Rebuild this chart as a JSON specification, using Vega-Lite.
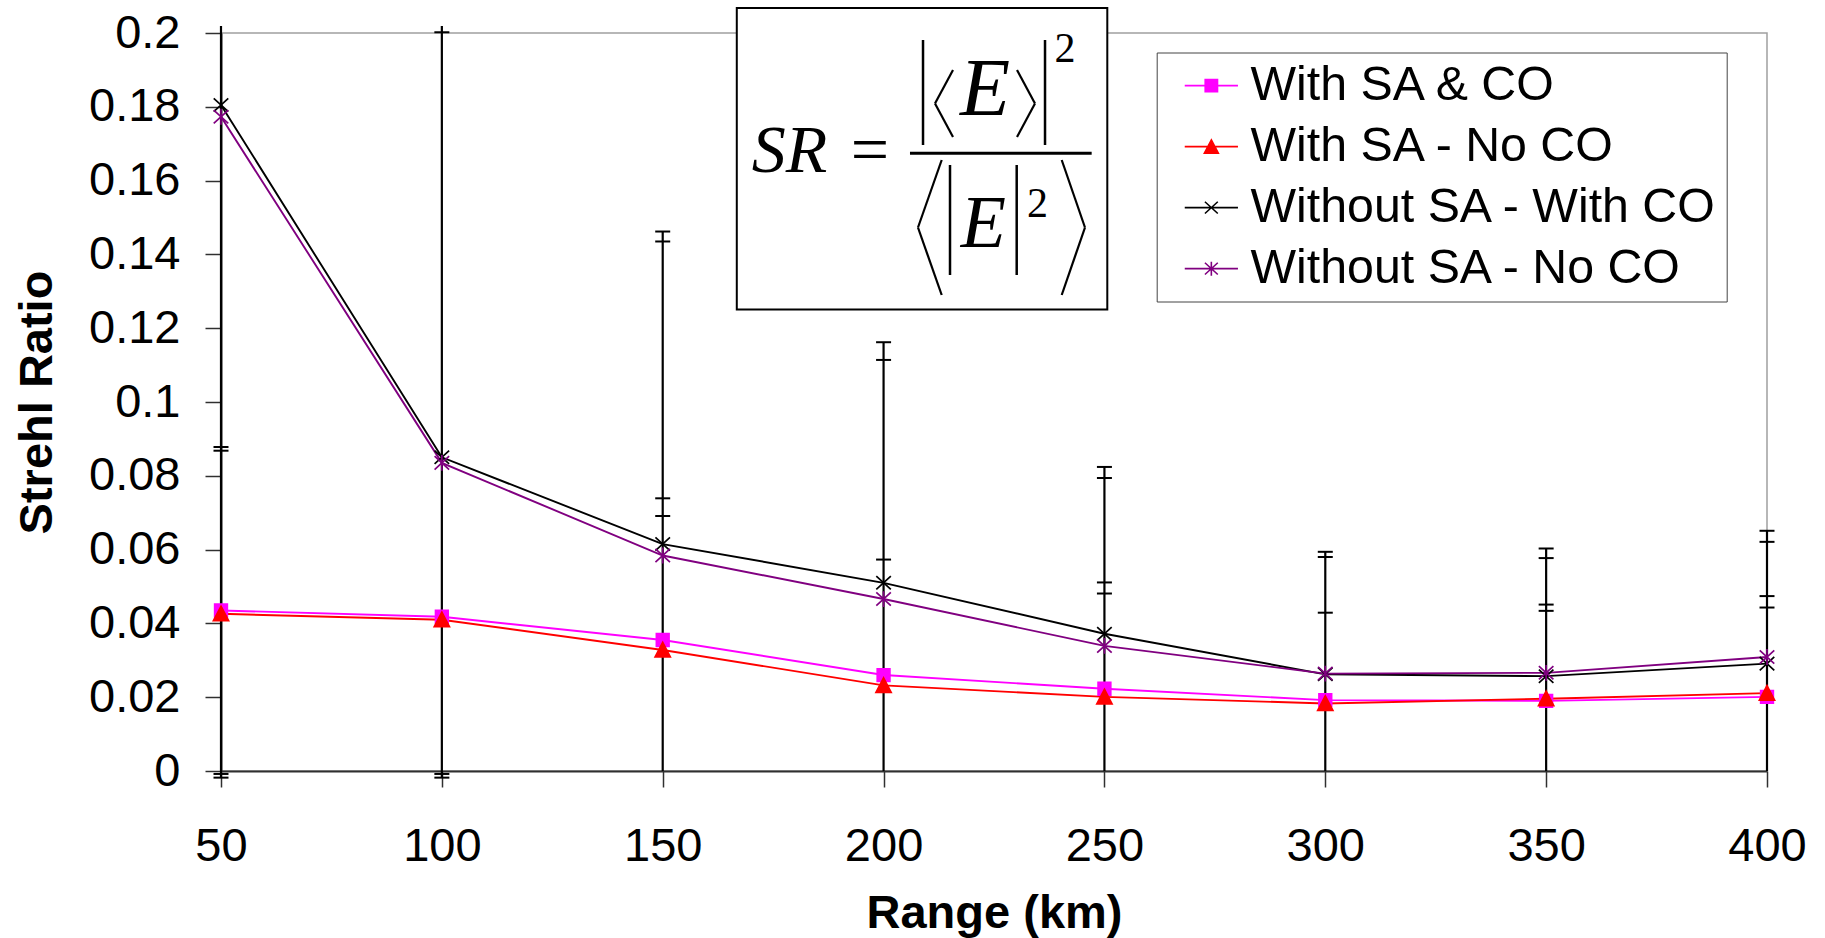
{
  "$schema": "https://vega.github.io/schema/vega-lite/v6.json",
  "width": 1546,
  "height": 738,
  "autosize": "none",
  "padding": {"left": 221, "top": 33, "right": 58, "bottom": 167},
  "background": "white",
  "datasets": {
    "series": [
      {"range": 50, "sr": 0.0435, "series": "With SA & CO"},
      {"range": 100, "sr": 0.0418, "series": "With SA & CO"},
      {"range": 150, "sr": 0.0355, "series": "With SA & CO"},
      {"range": 200, "sr": 0.0260, "series": "With SA & CO"},
      {"range": 250, "sr": 0.0223, "series": "With SA & CO"},
      {"range": 300, "sr": 0.0192, "series": "With SA & CO"},
      {"range": 350, "sr": 0.0190, "series": "With SA & CO"},
      {"range": 400, "sr": 0.0201, "series": "With SA & CO"},
      {"range": 50, "sr": 0.0426, "series": "With SA - No CO"},
      {"range": 100, "sr": 0.0410, "series": "With SA - No CO"},
      {"range": 150, "sr": 0.0328, "series": "With SA - No CO"},
      {"range": 200, "sr": 0.0232, "series": "With SA - No CO"},
      {"range": 250, "sr": 0.0201, "series": "With SA - No CO"},
      {"range": 300, "sr": 0.0183, "series": "With SA - No CO"},
      {"range": 350, "sr": 0.0196, "series": "With SA - No CO"},
      {"range": 400, "sr": 0.0211, "series": "With SA - No CO"},
      {"range": 50, "sr": 0.1805, "series": "Without SA - With CO"},
      {"range": 100, "sr": 0.0850, "series": "Without SA - With CO"},
      {"range": 150, "sr": 0.0615, "series": "Without SA - With CO"},
      {"range": 200, "sr": 0.0510, "series": "Without SA - With CO"},
      {"range": 250, "sr": 0.0372, "series": "Without SA - With CO"},
      {"range": 300, "sr": 0.0262, "series": "Without SA - With CO"},
      {"range": 350, "sr": 0.0257, "series": "Without SA - With CO"},
      {"range": 400, "sr": 0.0291, "series": "Without SA - With CO"},
      {"range": 50, "sr": 0.1773, "series": "Without SA - No CO"},
      {"range": 100, "sr": 0.0835, "series": "Without SA - No CO"},
      {"range": 150, "sr": 0.0584, "series": "Without SA - No CO"},
      {"range": 200, "sr": 0.0466, "series": "Without SA - No CO"},
      {"range": 250, "sr": 0.0339, "series": "Without SA - No CO"},
      {"range": 300, "sr": 0.0264, "series": "Without SA - No CO"},
      {"range": 350, "sr": 0.0266, "series": "Without SA - No CO"},
      {"range": 400, "sr": 0.0309, "series": "Without SA - No CO"}
    ],
    "errbars": [
      {"range": 50, "lo": -0.0018, "hi": 0.2019},
      {"range": 100, "lo": -0.0018, "hi": 0.2019},
      {"range": 150, "lo": 0, "hi": 0.1462},
      {"range": 200, "lo": 0, "hi": 0.1162},
      {"range": 250, "lo": 0, "hi": 0.0824},
      {"range": 300, "lo": 0, "hi": 0.0594},
      {"range": 350, "lo": 0, "hi": 0.0603},
      {"range": 400, "lo": 0, "hi": 0.0651}
    ],
    "caps": [
      {"range": 50, "cap": 0.0878}, {"range": 50, "cap": 0.0868},
      {"range": 50, "cap": -0.0008}, {"range": 50, "cap": -0.0018},
      {"range": 100, "cap": 0.2002},
      {"range": 100, "cap": -0.0008}, {"range": 100, "cap": -0.0018},
      {"range": 150, "cap": 0.1462}, {"range": 150, "cap": 0.1435},
      {"range": 150, "cap": 0.0739}, {"range": 150, "cap": 0.0691},
      {"range": 200, "cap": 0.1162}, {"range": 200, "cap": 0.1114},
      {"range": 200, "cap": 0.0573},
      {"range": 250, "cap": 0.0824}, {"range": 250, "cap": 0.0794},
      {"range": 250, "cap": 0.0511}, {"range": 250, "cap": 0.0481},
      {"range": 300, "cap": 0.0594}, {"range": 300, "cap": 0.0580},
      {"range": 300, "cap": 0.0429},
      {"range": 350, "cap": 0.0603}, {"range": 350, "cap": 0.0577},
      {"range": 350, "cap": 0.0451}, {"range": 350, "cap": 0.0434},
      {"range": 400, "cap": 0.0651}, {"range": 400, "cap": 0.0621},
      {"range": 400, "cap": 0.0474}, {"range": 400, "cap": 0.0443}
    ]
  },
  "layer": [
    {
      "data": {"name": "errbars"},
      "mark": {"type": "rule", "color": "black", "strokeWidth": 2.2},
      "encoding": {
        "x": {"field": "range", "type": "quantitative",
              "scale": {"domain": [50, 400], "nice": false, "zero": false},
              "axis": {"title": "Range (km)", "values": [50, 100, 150, 200, 250, 300, 350, 400]}},
        "y": {"field": "lo", "type": "quantitative",
              "scale": {"domain": [0, 0.2], "nice": false, "zero": false},
              "axis": {"title": "Strehl Ratio", "values": [0, 0.02, 0.04, 0.06, 0.08, 0.1, 0.12, 0.14, 0.16, 0.18, 0.2], "format": "~g"}},
        "y2": {"field": "hi"}
      }
    },
    {
      "data": {"name": "caps"},
      "mark": {"type": "tick", "orient": "horizontal", "size": 15, "thickness": 2, "color": "black", "opacity": 1},
      "encoding": {
        "x": {"field": "range", "type": "quantitative"},
        "y": {"field": "cap", "type": "quantitative"}
      }
    },
    {
      "data": {"name": "series"},
      "mark": {"type": "line", "strokeWidth": 1.9,
               "stroke": {"expr": "datum.series === 'With SA & CO' ? '#ff00ff' : datum.series === 'With SA - No CO' ? '#ff0000' : datum.series === 'Without SA - With CO' ? '#000000' : '#800080'"}},
      "encoding": {
        "x": {"field": "range", "type": "quantitative"},
        "y": {"field": "sr", "type": "quantitative"},
        "detail": {"field": "series", "type": "nominal"}
      }
    },
    {
      "data": {"name": "series"},
      "mark": {"type": "point", "filled": true, "size": 160, "strokeWidth": 1.7, "opacity": 1,
               "shape": {"expr": "datum.series === 'With SA & CO' ? 'M-1.0,-1.0L1.0,-1.0L1.0,1.0L-1.0,1.0Z' : datum.series === 'With SA - No CO' ? 'M0,-1.2L1.2,1.1L-1.2,1.1Z' : datum.series === 'Without SA - With CO' ? 'M-1.15,-1.05L1.15,1.05M-1.15,1.05L1.15,-1.05' : 'M-1.15,-1.05L1.15,1.05M-1.15,1.05L1.15,-1.05M0,-1.25L0,1.25'"},
               "fill": {"expr": "datum.series === 'With SA & CO' ? '#ff00ff' : datum.series === 'With SA - No CO' ? '#ff0000' : datum.series === 'Without SA - With CO' ? '#000000' : '#800080'"},
               "stroke": {"expr": "datum.series === 'With SA & CO' ? '#ff00ff' : datum.series === 'With SA - No CO' ? '#ff0000' : datum.series === 'Without SA - With CO' ? '#000000' : '#800080'"}},
      "encoding": {
        "x": {"field": "range", "type": "quantitative"},
        "y": {"field": "sr", "type": "quantitative"}
      }
    },
    {
      "data": {"name": "series"},
      "mark": {"type": "point", "filled": true, "size": 125, "opacity": 0},
      "encoding": {
        "x": {"field": "range", "type": "quantitative"},
        "y": {"field": "sr", "type": "quantitative"},
        "shape": {"field": "series", "type": "nominal",
                  "scale": {"domain": ["With SA & CO", "With SA - No CO", "Without SA - With CO", "Without SA - No CO"],
                            "range": ["M-4.76,0L4.76,0M-1.1,-1.1L1.1,-1.1L1.1,1.1L-1.1,1.1Z", "M-4.76,0L4.76,0M0,-1.2L1.25,1.15L-1.25,1.15Z", "M-4.76,0L4.76,0M-1.15,-1.05L1.15,1.05M-1.15,1.05L1.15,-1.05", "M-4.76,0L4.76,0M-1.15,-1.05L1.15,1.05M-1.15,1.05L1.15,-1.05M0,-1.25L0,1.25"]},
                  "legend": {
                    "title": null,
                    "orient": "none",
                    "legendX": 935.7,
                    "legendY": 19.5,
                    "padding": 9,
                    "rowPadding": 12,
                    "symbolSize": 125,
                    "symbolOffset": 21.5,
                    "labelOffset": 15,
                    "symbolOpacity": 1,
                    "labelFont": "Liberation Sans",
                    "labelFontSize": 48.3,
                    "labelColor": "black",
                    "labelLimit": 900,
                    "strokeColor": "#444444",
                    "fillColor": "white",
                    "symbolStrokeWidth": 1.6,
                    "encoding": {
                      "symbols": {
                        "fill": {"value": {"expr": "datum.value === 'With SA & CO' ? '#ff00ff' : datum.value === 'With SA - No CO' ? '#ff0000' : datum.value === 'Without SA - With CO' ? '#000000' : '#800080'"}},
                        "stroke": {"value": {"expr": "datum.value === 'With SA & CO' ? '#ff00ff' : datum.value === 'With SA - No CO' ? '#ff0000' : datum.value === 'Without SA - With CO' ? '#000000' : '#800080'"}},
                        "strokeWidth": {"value": 1.6},
                        "opacity": {"value": 1},
                        "fillOpacity": {"value": 1},
                        "strokeOpacity": {"value": 1}
                      }
                    }
                  }}
      }
    },
    {
      "data": {"values": [{}]},
      "mark": {"type": "rect", "fill": "white", "stroke": "black", "strokeWidth": 2},
      "encoding": {
        "x": {"datum": 166.77}, "x2": {"datum": 250.65},
        "y": {"datum": 0.20678}, "y2": {"datum": 0.12504}
      }
    },
    {
      "data": {"values": [{}]},
      "mark": {"type": "text", "text": "SR", "font": "Liberation Serif", "fontStyle": "italic", "fontSize": 68, "align": "left", "baseline": "alphabetic", "color": "black"},
      "encoding": {"x": {"datum": 170.15}, "y": {"datum": 0.16241}}
    },
    {
      "data": {"values": [{}]},
      "mark": {"type": "text", "text": "=", "font": "Liberation Serif", "fontSize": 68, "align": "center", "baseline": "alphabetic", "color": "black"},
      "encoding": {"x": {"datum": 196.9}, "y": {"datum": 0.16241}}
    },
    {
      "data": {"values": [{}]},
      "mark": {"type": "rule", "color": "black", "strokeWidth": 3},
      "encoding": {"x": {"datum": 205.98}, "x2": {"datum": 247.11}, "y": {"datum": 0.1674}, "y2": {"datum": 0.1674}}
    },
    {
      "data": {"values": [{}]},
      "mark": {"type": "rule", "color": "black", "strokeWidth": 2.5},
      "encoding": {"x": {"datum": 208.93}, "x2": {"datum": 208.93}, "y": {"datum": 0.1981}, "y2": {"datum": 0.16965}}
    },
    {
      "data": {"values": [{}]},
      "mark": {"type": "rule", "color": "black", "strokeWidth": 2.5},
      "encoding": {"x": {"datum": 236.55}, "x2": {"datum": 236.55}, "y": {"datum": 0.1981}, "y2": {"datum": 0.16965}}
    },
    {
      "data": {"values": [{}]},
      "mark": {"type": "rule", "color": "black", "strokeWidth": 2.2},
      "encoding": {"x": {"datum": 215.72}, "x2": {"datum": 211.64}, "y": {"datum": 0.18997}, "y2": {"datum": 0.18089}}
    },
    {
      "data": {"values": [{}]},
      "mark": {"type": "rule", "color": "black", "strokeWidth": 2.2},
      "encoding": {"x": {"datum": 211.64}, "x2": {"datum": 215.72}, "y": {"datum": 0.18089}, "y2": {"datum": 0.17182}}
    },
    {
      "data": {"values": [{}]},
      "mark": {"type": "rule", "color": "black", "strokeWidth": 2.2},
      "encoding": {"x": {"datum": 230.21}, "x2": {"datum": 234.28}, "y": {"datum": 0.18997}, "y2": {"datum": 0.18089}}
    },
    {
      "data": {"values": [{}]},
      "mark": {"type": "rule", "color": "black", "strokeWidth": 2.2},
      "encoding": {"x": {"datum": 234.28}, "x2": {"datum": 230.21}, "y": {"datum": 0.18089}, "y2": {"datum": 0.17182}}
    },
    {
      "data": {"values": [{}]},
      "mark": {"type": "text", "text": "E", "font": "Liberation Serif", "fontStyle": "italic", "fontSize": 82, "align": "center", "baseline": "alphabetic", "color": "black"},
      "encoding": {"x": {"datum": 223.0}, "y": {"datum": 0.17778}}
    },
    {
      "data": {"values": [{}]},
      "mark": {"type": "text", "text": "2", "font": "Liberation Serif", "fontSize": 42, "align": "center", "baseline": "alphabetic", "color": "black"},
      "encoding": {"x": {"datum": 241.07}, "y": {"datum": 0.19222}}
    },
    {
      "data": {"values": [{}]},
      "mark": {"type": "rule", "color": "black", "strokeWidth": 2.2},
      "encoding": {"x": {"datum": 213.16}, "x2": {"datum": 207.79}, "y": {"datum": 0.16558}, "y2": {"datum": 0.14729}}
    },
    {
      "data": {"values": [{}]},
      "mark": {"type": "rule", "color": "black", "strokeWidth": 2.2},
      "encoding": {"x": {"datum": 207.79}, "x2": {"datum": 213.16}, "y": {"datum": 0.14729}, "y2": {"datum": 0.129}}
    },
    {
      "data": {"values": [{}]},
      "mark": {"type": "rule", "color": "black", "strokeWidth": 2.2},
      "encoding": {"x": {"datum": 240.33}, "x2": {"datum": 245.6}, "y": {"datum": 0.16558}, "y2": {"datum": 0.14729}}
    },
    {
      "data": {"values": [{}]},
      "mark": {"type": "rule", "color": "black", "strokeWidth": 2.2},
      "encoding": {"x": {"datum": 245.6}, "x2": {"datum": 240.33}, "y": {"datum": 0.14729}, "y2": {"datum": 0.129}}
    },
    {
      "data": {"values": [{}]},
      "mark": {"type": "rule", "color": "black", "strokeWidth": 2.5},
      "encoding": {"x": {"datum": 215.04}, "x2": {"datum": 215.04}, "y": {"datum": 0.16423}, "y2": {"datum": 0.13442}}
    },
    {
      "data": {"values": [{}]},
      "mark": {"type": "rule", "color": "black", "strokeWidth": 2.5},
      "encoding": {"x": {"datum": 230.14}, "x2": {"datum": 230.14}, "y": {"datum": 0.16423}, "y2": {"datum": 0.13442}}
    },
    {
      "data": {"values": [{}]},
      "mark": {"type": "text", "text": "E", "font": "Liberation Serif", "fontStyle": "italic", "fontSize": 74, "align": "center", "baseline": "alphabetic", "color": "black"},
      "encoding": {"x": {"datum": 222.6}, "y": {"datum": 0.14209}}
    },
    {
      "data": {"values": [{}]},
      "mark": {"type": "text", "text": "2", "font": "Liberation Serif", "fontSize": 42, "align": "center", "baseline": "alphabetic", "color": "black"},
      "encoding": {"x": {"datum": 234.85}, "y": {"datum": 0.15022}}
    }
  ],
  "config": {
    "font": "Liberation Sans",
    "view": {"stroke": "#a0a0a0", "strokeWidth": 1.5},
    "axis": {
      "grid": false,
      "labelFont": "Liberation Sans",
      "labelFontSize": 47,
      "labelColor": "black",
      "titleFont": "Liberation Sans",
      "titleFontSize": 47,
      "titleFontWeight": "bold",
      "titleColor": "black",
      "tickSize": 16,
      "tickColor": "#303030",
      "tickWidth": 1.5,
      "domainColor": "#303030",
      "domainWidth": 2,
      "labelOverlap": false,
      "labelFlush": false
    },
    "axisX": {"labelPadding": 36, "titlePadding": 21},
    "axisY": {"labelPadding": 25, "titlePadding": 27}
  }
}
